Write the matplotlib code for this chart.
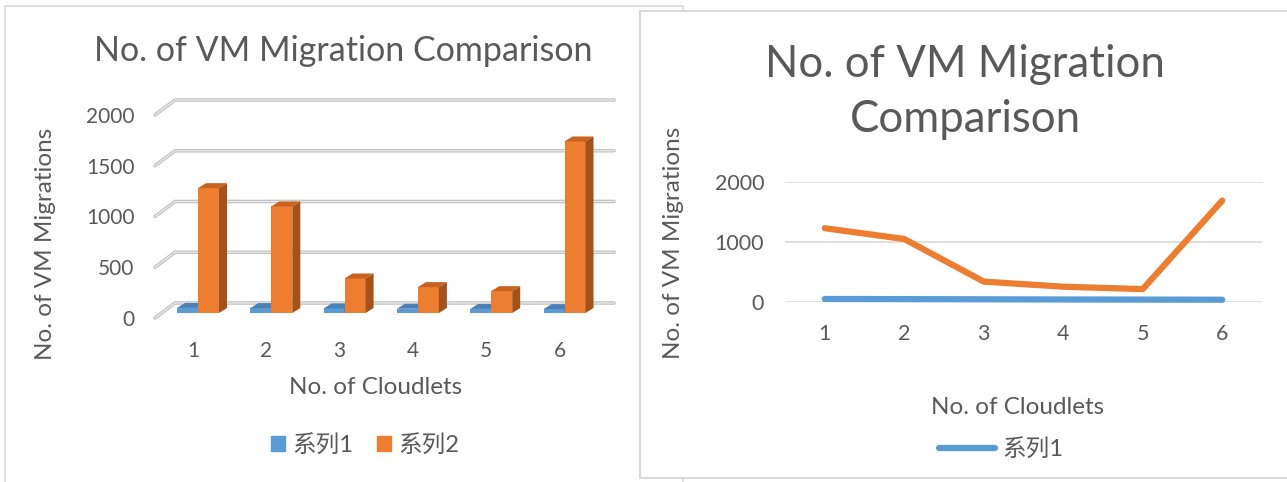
import matplotlib
matplotlib.use("Agg")
import matplotlib.pyplot as plt
from matplotlib.patches import Polygon, Rectangle, Patch
from matplotlib.lines import Line2D

# --- data ---
cloudlets = [1, 2, 3, 4, 5, 6]
series1 = [50, 48, 45, 42, 40, 38]
series2 = [1230, 1050, 340, 255, 215, 1690]
bar_ticks = [0, 500, 1000, 1500, 2000]
line_ticks = [0, 1000, 2000]
names = ["系列1", "系列2"]
title = "No. of VM Migration Comparison"
xlabel = "No. of Cloudlets"
ylabel = "No. of VM Migrations"

# --- style ---
W, H = 1287, 482
BLUE, ORANGE = "#5B9BD5", "#ED7D31"
BLUE_TOP, BLUE_SIDE = "#4a80b3", "#3e6c98"
ORANGE_TOP, ORANGE_SIDE = "#c9621f", "#a4511a"
TXT = "#595959"
GRID = "#d9d9d9"
plt.rcParams["font.family"] = ["Lato", "Noto Sans CJK SC", "DejaVu Sans"]


def box(x0, y0, x1, y1):
    # pixel box (top-left origin) -> figure fraction
    return [x0 / W, 1 - y1 / H, (x1 - x0) / W, (y1 - y0) / H]


fig = plt.figure(figsize=(W / 100, H / 100), dpi=100)

# panel frames
fig.patches.append(Rectangle((5 / W, -0.1), 678 / W, 1.1 - 6 / H, transform=fig.transFigure,
                             fc="white", ec=GRID, lw=1.2, zorder=-2))
fig.patches.append(Rectangle((640 / W, 1 - 478 / H), 700 / W, 467 / H, transform=fig.transFigure,
                             fc="white", ec=GRID, lw=1.5, zorder=-1))

# ================= left: pseudo 3D columns =================
sx, sy = 73.3, 0.1015          # px per category, px per unit
ax = fig.add_axes(box(140, 90, 630, 330))
ax.set_facecolor("none")
ax.set_xlim((140 - 193) / sx + 1, (630 - 193) / sx + 1)
ax.set_ylim((303 - 330) / sy, (303 - 90) / sy)
for s in ax.spines.values():
    s.set_visible(False)

wdx, wdy = 20 / sx, 15 / sy    # wall depth
x_front = (155 - 193) / sx + 1
x_right = (614 - 193) / sx + 1
for v in bar_ticks:
    xs = [x_front, x_front + wdx, x_right]
    ys = [v - wdy, v, v]
    ax.plot(xs, ys, color="#c4c4c4", lw=2.6, solid_capstyle="round", zorder=1)
    ax.plot(xs, ys, color="#ececec", lw=0.8, zorder=1.1)

base = -10 / sy
bw = 21 / sx
bdx, bdy = 8 / sx, 5 / sy


def col3d(x0, val, front, top, side):
    ax.bar(x0, val, width=bw, bottom=base, align="edge", color=front, zorder=3)
    x1 = x0 + bw
    t = base + val
    ax.add_patch(Polygon([(x0, t), (x0 + bdx, t + bdy), (x1 + bdx, t + bdy), (x1, t)],
                         closed=True, fc=top, ec="none", zorder=3))
    ax.add_patch(Polygon([(x1, base), (x1 + bdx, base + bdy), (x1 + bdx, t + bdy), (x1, t)],
                         closed=True, fc=side, ec="none", zorder=3))


for c, a, b in zip(cloudlets, series1, series2):
    col3d(c - 16 / sx, a, BLUE, BLUE_TOP, BLUE_SIDE)
    col3d(c + 5 / sx, b, ORANGE, ORANGE_TOP, ORANGE_SIDE)

ax.set_yticks([v - wdy for v in bar_ticks])
ax.set_yticklabels([str(v) for v in bar_ticks])
ax.set_xticks(cloudlets)
ax.set_xticklabels([str(c) for c in cloudlets])
ax.tick_params(length=0, labelsize=15, labelcolor=TXT)
ax.tick_params(axis="y", pad=4)
ax.tick_params(axis="x", pad=8)

fig.text(343 / W, 1 - 51 / H, title, ha="center", va="center", fontsize=24.5, color=TXT)
fig.text(46 / W, 1 - 244 / H, ylabel, ha="center", va="center", rotation=90, fontsize=17.5, color=TXT)
fig.text(376 / W, 1 - 387 / H, xlabel, ha="center", va="center", fontsize=17.5, color=TXT)
fig.legend([Patch(color=BLUE), Patch(color=ORANGE)], names, loc="center",
           bbox_to_anchor=(365 / W, 1 - 445 / H), ncol=2, frameon=False,
           handlelength=0.6, handleheight=0.6, handletextpad=0.3, columnspacing=1.0,
           fontsize=17, labelcolor=TXT)

# ================= right: line chart =================
ax2 = fig.add_axes(box(785, 182, 1262, 302))
ax2.set_facecolor("none")
ax2.set_xlim(0.5, 6.5)
ax2.set_ylim(0, 2000)
for s in ax2.spines.values():
    s.set_visible(False)
for v in line_ticks:
    ax2.axhline(v, color=GRID, lw=1.2, zorder=1)
ax2.plot(cloudlets, series2, color=ORANGE, lw=4.5, solid_capstyle="round",
         solid_joinstyle="round", clip_on=False, zorder=3)
ax2.plot(cloudlets, series1, color=BLUE, lw=4.5, solid_capstyle="round",
         clip_on=False, zorder=3)
ax2.set_xticks(cloudlets)
ax2.set_yticks(line_ticks)
ax2.tick_params(length=0, labelsize=15.5, labelcolor=TXT)
ax2.tick_params(axis="y", pad=15)
ax2.tick_params(axis="x", pad=16)

fig.text(965 / W, 1 - 92 / H, "No. of VM Migration\nComparison", ha="center", va="center",
         fontsize=31.5, color=TXT, linespacing=1.45)
fig.text(673 / W, 1 - 243 / H, ylabel, ha="center", va="center", rotation=90, fontsize=17.5, color=TXT)
fig.text(1018 / W, 1 - 408 / H, xlabel, ha="center", va="center", fontsize=17.5, color=TXT)
fig.legend([Line2D([], [], color=BLUE, lw=4.5, solid_capstyle="round")], names[:1], loc="center",
           bbox_to_anchor=(1001 / W, 1 - 449 / H), frameon=False, handlelength=2.4,
           handletextpad=0.3, fontsize=17, labelcolor=TXT)

fig.savefig("out.png", dpi=100)
